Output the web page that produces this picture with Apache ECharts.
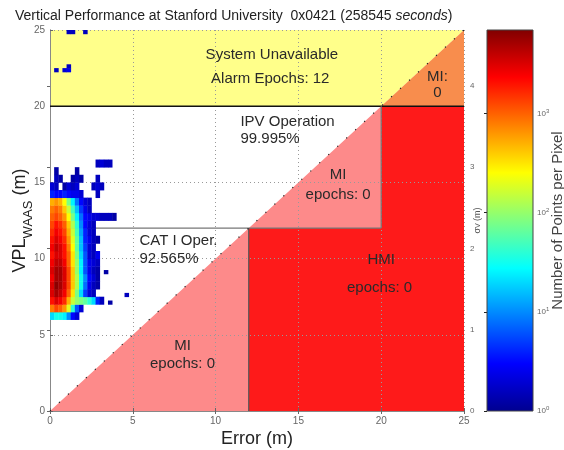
<!DOCTYPE html>
<html>
<head>
<meta charset="utf-8">
<script src="https://cdn.jsdelivr.net/npm/echarts@6/dist/echarts.min.js"></script>
<style>
html, body { margin: 0; padding: 0; background: #fff; }
#chart { width: 564px; height: 450px; }
</style>
</head>
<body>
<div id="chart"></div>
<script>
// limits of the triangle chart (m)
var axisMax = 25;
var ipvLimit = 20;     // IPV alarm limit
var catLimit = 12;     // CAT I alarm limit
var sigmaMax = 4.69;   // right axis, sigma_V
var cbarMax = 3.84;    // log10 of the largest count per pixel

// density of points, log10(count) per bin; null = no point
var binW = 0.25, binH = 0.5, rowStart = 6.0;
var densityRows = [
    [1.3, 1.5, 1.5, 1.4, 1.0, 0.5, 0.3],                                        // 6.0
    [2.9, 3.1, 3.0, 2.8, 2.3, 1.6, 0.8, 0.3],                                   // 6.5
    [3.3, 3.5, 3.4, 3.2, 2.7, 2.2, 2.0, 1.9, 1.8, 1.6, 1.3, 0.6, 0.2],          // 7.0
    [3.5, 3.7, 3.6, 3.4, 3.0, 2.5, 1.9, 1.3, 0.7, 0.3, 0.2],                    // 7.5
    [3.5, 3.8, 3.7, 3.5, 3.1, 2.6, 2.1, 1.5, 0.9, 0.4, 0.2, 0.1],               // 8.0
    [3.4, 3.7, 3.7, 3.5, 3.1, 2.6, 2.1, 1.5, 1.0, 0.5, 0.3, 0.1],               // 8.5
    [3.5, 3.7, 3.7, 3.5, 3.1, 2.6, 2.0, 1.4, 0.8, 0.4, 0.2, 0.1],               // 9.0
    [3.4, 3.6, 3.6, 3.4, 3.0, 2.5, 2.0, 1.4, 0.8, 0.4, 0.3, 0.2],               // 9.5
    [3.3, 3.5, 3.5, 3.3, 3.0, 2.5, 1.9, 1.3, 0.8, 0.3, 0.2, 0.4],               // 10.0
    [3.4, 3.6, 3.5, 3.3, 2.9, 2.4, 1.8, 1.2, 0.7, 0.3, 0.2],                    // 10.5
    [3.3, 3.5, 3.4, 3.2, 2.8, 2.3, 1.8, 1.2, 0.6, 0.4, 0.2, 0.1],               // 11.0
    [3.2, 3.4, 3.3, 3.1, 2.7, 2.2, 1.7, 1.1, 0.6, 0.3, 0.2],                    // 11.5
    [3.1, 3.3, 3.2, 3.0, 2.6, 2.1, 1.6, 1.0, 0.5, 0.3, 0.2],                    // 12.0
    [3.0, 3.1, 3.0, 2.8, 2.4, 1.9, 1.4, 0.9, 0.5, 0.4, 0.3, 0.3, 0.2, 0.2, 0.2, 0.1], // 12.5
    [2.9, 3.0, 2.9, 2.6, 2.2, 1.7, 1.2, 0.7, 0.4, 0.2],                         // 13.0
    [2.7, 2.8, 2.7, 2.4, 1.9, 1.4, 0.9, 0.5, 0.3, 0.2],                         // 13.5
    [0.6, 0.5, 0.5, 0.6, 0.5, 0.4, 0.4, 0.3, null, null, null, 0.2],            // 14.0
    [0.3, 0.2, null, 0.1, 0.3, 0.2, 0.3, null, null, null, 0.2, 0.3, 0.2],      // 14.5
    [null, 0.2, 0.1, null, null, 0.1, 0.2, 0.1, null, null, null, 0.2],         // 15.0
    [null, 0.1, null, null, null, null, 0.1],                                   // 15.5
    [null, null, null, null, null, null, null, null, null, null, null, 0.2, 0.3, 0.2, 0.2] // 16.0
];
// isolated points: [x, y, log10(count)], bin 0.25 x 0.25
var sparseCells = [
    [0.25, 22.25, 0.2], [0.75, 22.25, 0.3], [1.0, 22.25, 0.4], [1.0, 22.5, 0.2],
    [1.0, 24.75, 0.2], [1.25, 24.75, 0.2], [2.0, 24.75, 0.2],
    [3.25, 9.0, 0.1], [3.5, 7.0, 0.1], [4.5, 7.5, 0.2]
];

// text inside the regions: [x, y, text, align]
var regionText = [
    [13.4, 23.4, 'System Unavailable', 'center'],
    [13.3, 21.8, 'Alarm Epochs: 12', 'center'],
    [23.4, 21.9, 'MI:', 'center'],
    [23.4, 20.9, '0', 'center'],
    [11.5, 19.0, 'IPV Operation', 'left'],
    [11.5, 17.85, '99.995%', 'left'],
    [17.4, 15.5, 'MI', 'center'],
    [17.4, 14.2, 'epochs: 0', 'center'],
    [5.4, 11.15, 'CAT I Oper.', 'left'],
    [5.4, 9.97, '92.565%', 'left'],
    [20.0, 9.9, 'HMI', 'center'],
    [19.9, 8.07, 'epochs: 0', 'center'],
    [8.0, 4.27, 'MI', 'center'],
    [8.0, 3.08, 'epochs: 0', 'center']
];

var jetColors = ['#00008f', '#0000ff', '#0080ff', '#00ffff', '#80ff80',
                 '#ffff00', '#ff8000', '#ff0000', '#800000'];

// polygons built from the limits
var regions = [
    { color: '#ffff8a', pts: [[0, ipvLimit], [ipvLimit, ipvLimit], [axisMax, axisMax], [0, axisMax]] },
    { color: '#f88d4d', pts: [[ipvLimit, ipvLimit], [axisMax, ipvLimit], [axisMax, axisMax]] },
    { color: '#fd8a8a', pts: [[0, 0], [catLimit, 0], [catLimit, catLimit], [ipvLimit, catLimit], [ipvLimit, ipvLimit]] },
    { color: '#fe1a1a', pts: [[catLimit, 0], [axisMax, 0], [axisMax, ipvLimit], [ipvLimit, ipvLimit], [ipvLimit, catLimit], [catLimit, catLimit]] }
];

var heatData = [];
densityRows.forEach(function (row, r) {
    row.forEach(function (v, c) {
        if (v !== null) heatData.push([c * binW, rowStart + r * binH, v, binW, binH]);
    });
});
sparseCells.forEach(function (s) {
    heatData.push([s[0], s[1], s[2], binW, 0.25]);
});

var font = 'Liberation Sans, Arial, sans-serif';
var chart = echarts.init(document.getElementById('chart'));

function lineSeries(data, color, width, type) {
    return {
        type: 'line', xAxisIndex: 0, yAxisIndex: 0, data: data, z: 3,
        symbol: 'none', silent: true, animation: false,
        lineStyle: { color: color, width: width, type: type || 'solid' }
    };
}

var option = {
    animation: false,
    title: {
        text: 'Vertical Performance at Stanford University  0x0421 (258545 {i|seconds})',
        left: 10, top: 4,
        textStyle: {
            fontFamily: font, fontSize: 14, fontWeight: 'normal', color: '#222',
            rich: { i: { fontFamily: font, fontSize: 14, fontStyle: 'italic', color: '#222' } }
        }
    },
    grid: [
        { left: 50, top: 30, width: 414, height: 381, outerBoundsMode: 'none', containLabel: false },
        { left: 487, top: 30, width: 46, height: 381, outerBoundsMode: 'none', containLabel: false }
    ],
    visualMap: {
        show: false, type: 'continuous', seriesIndex: 2, dimension: 2,
        min: 0, max: cbarMax, inRange: { color: jetColors }
    },
    xAxis: [
        {
            gridIndex: 0, type: 'value', min: 0, max: axisMax, interval: 5, z: 2,
            name: 'Error (m)', nameLocation: 'middle', nameGap: 19, nameMoveOverlap: false,
            nameTextStyle: { fontFamily: font, fontSize: 18, color: '#222' },
            axisLine: { lineStyle: { color: '#888' } },
            axisTick: { inside: true, length: 3, lineStyle: { color: '#666' } },
            axisLabel: { fontFamily: font, fontSize: 10, color: '#666', margin: 5 },
            splitLine: { show: true, lineStyle: { color: '#999', type: [1, 3] } }
        },
        {
            gridIndex: 0, type: 'value', min: 0, max: axisMax, interval: 5, position: 'top', z: 2,
            axisLine: { lineStyle: { color: '#888' } },
            axisTick: { inside: true, length: 3, lineStyle: { color: '#666' } },
            axisLabel: { show: false }, splitLine: { show: false }
        },
        { gridIndex: 1, type: 'value', min: 0, max: 1, show: false }
    ],
    yAxis: [
        {
            gridIndex: 0, type: 'value', min: 0, max: axisMax, interval: 5, z: 2,
            name: 'VPL{sub|WAAS} (m)', nameLocation: 'middle', nameGap: 30, nameRotate: 90,
            nameMoveOverlap: false,
            nameTextStyle: {
                fontFamily: font, fontSize: 18, color: '#222', lineHeight: 30, verticalAlign: 'middle',
                rich: { sub: { fontFamily: font, fontSize: 13, color: '#222', verticalAlign: 'bottom' } }
            },
            axisLine: { lineStyle: { color: '#888' } },
            axisTick: { inside: true, length: 3, lineStyle: { color: '#666' } },
            axisLabel: { fontFamily: font, fontSize: 10, color: '#666', margin: 5 },
            splitLine: { show: true, lineStyle: { color: '#999', type: [1, 3] } }
        },
        {
            gridIndex: 0, type: 'value', min: 0, max: sigmaMax, interval: 1, position: 'right', z: 2,
            name: 'σ{sub|V} (m)', nameLocation: 'middle', nameGap: 9, nameRotate: 90,
            nameMoveOverlap: false,
            nameTextStyle: {
                fontFamily: font, fontSize: 9, color: '#555',
                rich: { sub: { fontFamily: font, fontSize: 7, color: '#555', verticalAlign: 'bottom' } }
            },
            axisLine: { lineStyle: { color: '#888' } },
            axisTick: { inside: true, length: 3, lineStyle: { color: '#666' } },
            axisLabel: { fontFamily: font, fontSize: 8, color: '#666', margin: 6, showMaxLabel: false },
            splitLine: { show: false }
        },
        {
            gridIndex: 1, type: 'value', min: 0, max: cbarMax, interval: 1, position: 'right',
            name: 'Number of Points per Pixel', nameLocation: 'middle', nameGap: 17, nameRotate: 90,
            nameMoveOverlap: false,
            nameTextStyle: { fontFamily: font, fontSize: 15, color: '#444' },
            axisLine: { show: false },
            axisTick: { inside: true, length: 3, lineStyle: { color: '#222' } },
            axisLabel: {
                fontFamily: font, fontSize: 8, color: '#666', margin: 4, showMaxLabel: false,
                formatter: function (v) { return '10{sup|' + v + '}'; },
                rich: { sup: { fontFamily: font, fontSize: 6, color: '#666', verticalAlign: 'top', padding: [0, 0, 5, 0] } }
            },
            splitLine: { show: false }
        }
    ],
    series: [
        {
            // coloured regions
            type: 'custom', xAxisIndex: 0, yAxisIndex: 0, z: 1, silent: true,
            data: regions.map(function (r, i) { return [i]; }),
            encode: { x: -1, y: -1 },
            renderItem: function (params, api) {
                var reg = regions[params.dataIndex];
                return {
                    type: 'polygon',
                    shape: { points: reg.pts.map(function (p) { return api.coord(p); }) },
                    style: { fill: reg.color, stroke: null }
                };
            }
        },
        {
            // region labels
            type: 'custom', xAxisIndex: 0, yAxisIndex: 0, z: 5, silent: true,
            data: regionText,
            encode: { x: 0, y: 1 },
            renderItem: function (params, api) {
                var t = regionText[params.dataIndex];
                var p = api.coord([t[0], t[1]]);
                return {
                    type: 'text', x: p[0], y: p[1],
                    style: { text: t[2], fontFamily: font, fontSize: 15, fill: '#2a2a2a',
                             align: t[3], verticalAlign: 'middle' }
                };
            }
        },
        {
            // points per pixel
            type: 'custom', xAxisIndex: 0, yAxisIndex: 0, z: 4, silent: true,
            data: heatData,
            encode: { x: 0, y: 1 },
            renderItem: function (params, api) {
                var p0 = api.coord([api.value(0), api.value(1) + api.value(4)]);
                var p1 = api.coord([api.value(0) + api.value(3), api.value(1)]);
                return {
                    type: 'rect',
                    shape: { x: p0[0], y: p0[1], width: p1[0] - p0[0] + 0.4, height: p1[1] - p0[1] + 0.4 },
                    style: { fill: api.visual('color') }
                };
            }
        },
        {
            // colour bar
            type: 'custom', xAxisIndex: 2, yAxisIndex: 2, silent: true,
            data: [[0, 0]],
            renderItem: function (params, api) {
                var p0 = api.coord([0, cbarMax]);
                var p1 = api.coord([1, 0]);
                return {
                    type: 'rect',
                    shape: { x: p0[0], y: p0[1], width: p1[0] - p0[0], height: p1[1] - p0[1] },
                    style: {
                        fill: new echarts.graphic.LinearGradient(0, 1, 0, 0, jetColors.map(function (c, i) {
                            return { offset: i / (jetColors.length - 1), color: c };
                        })),
                        stroke: '#444', lineWidth: 1
                    }
                };
            }
        },
        lineSeries([[0, ipvLimit], [axisMax, ipvLimit]], '#111', 1.5),
        lineSeries([[0, catLimit], [ipvLimit, catLimit]], '#777', 1.2),
        lineSeries([[catLimit, 0], [catLimit, catLimit]], '#555', 1.2),
        lineSeries([[ipvLimit, catLimit], [ipvLimit, ipvLimit]], '#777', 1.2),
        lineSeries([[0, 0], [axisMax, axisMax]], '#222', 1.2, [1.2, 11])
    ]
};
chart.setOption(option);
</script>
</body>
</html>
